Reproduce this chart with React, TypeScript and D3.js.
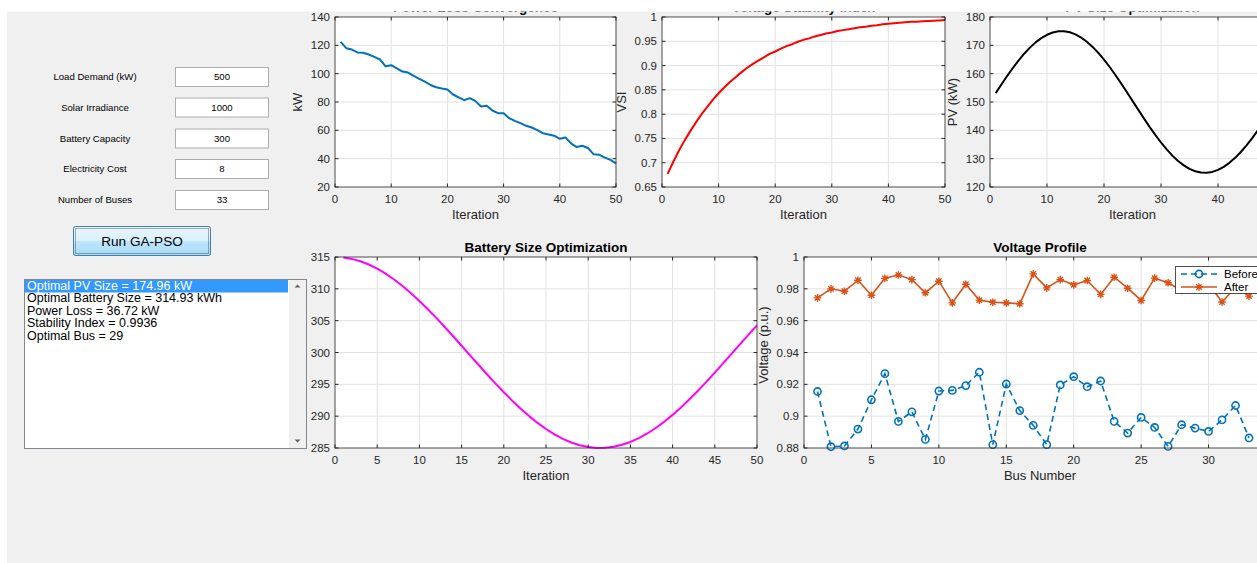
import React from 'react';
import * as d3 from 'd3';

// iteration / bus index
const iterations = d3.range(1, 51);
const busNumbers = d3.range(1, 34);

// values
const powerLoss = [
  122.4, 118, 117, 115, 114.8, 113.5, 111.8, 110, 105.2, 106,
  103.8, 101.5, 100.8, 98.4, 96.3, 94.4, 92, 90.4, 89.5, 88.8,
  85.3, 83.2, 81.3, 82.7, 80.6, 76.8, 77.3, 74, 72.1, 72.1,
  68.6, 66.7, 65.1, 63.2, 62, 60.2, 58, 57.1, 56.2, 54,
  55, 50.8, 48.2, 49.1, 47.5, 43.2, 42.8, 40.7, 39.2, 36.72,
];
const stabilityIndex = [
  0.677, 0.702, 0.725, 0.746, 0.765, 0.783, 0.800, 0.815, 0.830, 0.843,
  0.855, 0.866, 0.876, 0.886, 0.895, 0.903, 0.910, 0.917, 0.924, 0.929,
  0.935, 0.940, 0.944, 0.949, 0.953, 0.956, 0.960, 0.963, 0.966, 0.968,
  0.971, 0.973, 0.975, 0.977, 0.979, 0.980, 0.982, 0.983, 0.985, 0.986,
  0.987, 0.988, 0.989, 0.990, 0.990, 0.991, 0.992, 0.9925, 0.993, 0.9936,
];
const pvSize = [
  153.12, 156.19, 159.16, 161.99, 164.63, 167.04, 169.19, 171.04, 172.56, 173.72,
  174.52, 174.94, 174.96, 174.60, 173.85, 172.73, 171.26, 169.45, 167.34, 164.96,
  162.35, 159.54, 156.59, 153.53, 150.41, 147.30, 144.22, 141.23, 138.38, 135.71,
  133.27, 131.08, 129.20, 127.63, 126.41, 125.56, 125.10, 125.02, 125.32, 126.03,
  127.09, 128.53, 130.29, 132.36, 134.70, 137.28, 140.05, 143.01, 146.06, 149.17,
];
const batterySize = [
  314.93, 314.70, 314.33, 313.82, 313.16, 312.38, 311.47, 310.45, 309.32, 308.10,
  306.80, 305.44, 304.01, 302.55, 301.06, 299.56, 298.07, 296.59, 295.15, 293.76,
  292.43, 291.17, 290.01, 288.94, 287.98, 287.15, 286.44, 285.87, 285.44, 285.15,
  285.01, 285.03, 285.19, 285.50, 285.95, 286.55, 287.28, 288.14, 289.11, 290.20,
  291.38, 292.65, 293.99, 295.39, 296.84, 298.32, 299.81, 301.31, 302.80, 304.25,
];
const voltageBefore = [
  0.9155, 0.8808, 0.8813, 0.8919, 0.9103, 0.9267, 0.8967, 0.9027, 0.8854, 0.9158,
  0.9162, 0.9192, 0.9276, 0.8821, 0.9202, 0.9035, 0.8942, 0.8821, 0.9196, 0.9248,
  0.9185, 0.9221, 0.8967, 0.8894, 0.8992, 0.8929, 0.881, 0.8946, 0.8925, 0.8904,
  0.8977, 0.9067, 0.8863,
];
const voltageAfter = [
  0.9743, 0.98, 0.9785, 0.9854, 0.976, 0.9866, 0.9887, 0.9858, 0.9775, 0.9848,
  0.9712, 0.9829, 0.9729, 0.9716, 0.9712, 0.9706, 0.9894, 0.9806, 0.9858, 0.9825,
  0.9852, 0.9765, 0.9873, 0.9804, 0.9727, 0.9867, 0.9838, 0.979, 0.981, 0.983,
  0.9717, 0.981, 0.9754,
];

const inputLabels = ['Load Demand (kW)', 'Solar Irradiance', 'Battery Capacity', 'Electricity Cost', 'Number of Buses'];
const inputValues = ['500', '1000', '300', '8', '33'];
const resultLines = [
  'Optimal PV Size = 174.96 kW',
  'Optimal Battery Size = 314.93 kWh',
  'Power Loss = 36.72 kW',
  'Stability Index = 0.9936',
  'Optimal Bus = 29',
];

const iterTicks10 = [0, 10, 20, 30, 40, 50];
const iterTicks5 = [0, 5, 10, 15, 20, 25, 30, 35, 40, 45, 50];
const busTicks = [0, 5, 10, 15, 20, 25, 30, 35];
const lossTicks = [20, 40, 60, 80, 100, 120, 140];
const vsiTicks = [0.65, 0.7, 0.75, 0.8, 0.85, 0.9, 0.95, 1];
const pvTicks = [120, 130, 140, 150, 160, 170, 180];
const batTicks = [285, 290, 295, 300, 305, 310, 315];
const voltTicks = [0.88, 0.9, 0.92, 0.94, 0.96, 0.98, 1];

const W = 1257;
const H = 563;
const FONT = '"Liberation Sans", Arial, Helvetica, sans-serif';
const AXIS = '#262626';
const BLUE = '#0072BD';
const ORANGE = '#D95319';

const fmt = (v: number) => String(+v.toFixed(2));

function Axes(props: any) {
  const { left, top, right, bottom, xDomain, yDomain, xTicks, yTicks, title, titleY, xLabel, yLabel, yLabelX, yLabelY, children } = props;
  const x = d3.scaleLinear().domain(xDomain).range([left, right]);
  const y = d3.scaleLinear().domain(yDomain).range([bottom, top]);
  const tl = 3.5;
  return (
    <g fontFamily={FONT}>
      <rect x={left} y={top} width={right - left} height={bottom - top} fill="#fff" />
      {xTicks.map((t: number) => (
        <line key={'gx' + t} x1={x(t)} x2={x(t)} y1={top} y2={bottom} stroke="#e2e2e2" />
      ))}
      {yTicks.map((t: number) => (
        <line key={'gy' + t} x1={left} x2={right} y1={y(t)} y2={y(t)} stroke="#e2e2e2" />
      ))}
      {children(x, y)}
      <rect x={left} y={top} width={right - left} height={bottom - top} fill="none" stroke={AXIS} strokeOpacity={0.75} />
      {xTicks.map((t: number) => (
        <g key={'tx' + t}>
          <line x1={x(t)} x2={x(t)} y1={bottom} y2={bottom - tl} stroke={AXIS} />
          <line x1={x(t)} x2={x(t)} y1={top} y2={top + tl} stroke={AXIS} />
          {/* labels past the window edge are not in the screenshot */}
          {x(t) < W - 4 && (
            <text x={x(t)} y={bottom + 15.5} textAnchor="middle" fontSize={11.5} fill={AXIS}>{fmt(t)}</text>
          )}
        </g>
      ))}
      {yTicks.map((t: number) => (
        <g key={'ty' + t}>
          <line x1={left} x2={left + tl} y1={y(t)} y2={y(t)} stroke={AXIS} />
          <line x1={right} x2={right - tl} y1={y(t)} y2={y(t)} stroke={AXIS} />
          <text x={left - 5} y={y(t)} dy="0.35em" textAnchor="end" fontSize={11.5} fill={AXIS}>{fmt(t)}</text>
        </g>
      ))}
      {title && (
        <text x={(left + right) / 2} y={titleY ?? top - 5} textAnchor="middle" fontSize={13.5} fontWeight="bold" fill="#000">{title}</text>
      )}
      {xLabel && (
        <text x={(left + right) / 2} y={bottom + 32} textAnchor="middle" fontSize={13} fill={AXIS}>{xLabel}</text>
      )}
      {yLabel && (
        <text transform={`translate(${yLabelX},${yLabelY ?? (top + bottom) / 2}) rotate(-90)`} dy="0.35em" textAnchor="middle" fontSize={13} fill={AXIS}>{yLabel}</text>
      )}
    </g>
  );
}

function star(cx: number, cy: number) {
  const s = 3.8, a = 2.7;
  return `M${cx - s},${cy}L${cx + s},${cy}M${cx},${cy - s}L${cx},${cy + s}M${cx - a},${cy - a}L${cx + a},${cy + a}M${cx - a},${cy + a}L${cx + a},${cy - a}`;
}

function IterLine({ x, y, values, color }: any) {
  const line = d3.line<number>().x((_, i) => x(iterations[i])).y((d) => y(d));
  return <path d={line(values) || ''} fill="none" stroke={color} strokeWidth={2} strokeLinejoin="round" />;
}

export default function App() {
  const rowY = [77, 107.5, 138.5, 169, 200];
  return (
    <div style={{ position: 'absolute', left: 0, top: 0 }}>
      <svg width={W} height={H} style={{ display: 'block' }}>
        <defs>
          <linearGradient id="btn" x1="0" y1="0" x2="0" y2="1">
            <stop offset="0" stopColor="#eaf6fd" />
            <stop offset="0.5" stopColor="#d9f0fc" />
            <stop offset="0.52" stopColor="#bee6fd" />
            <stop offset="1" stopColor="#a7d9f5" />
          </linearGradient>
        </defs>
        <rect width={W} height={H} fill="#fff" />
        <rect x={7} y={11} width={W - 7} height={H - 11} fill="#f0f0f0" />

        {/* input controls */}
        <g fontFamily={FONT}>
          {inputLabels.map((l, i) => (
            <g key={l}>
              <text x={95} y={rowY[i]} dy="0.35em" textAnchor="middle" fontSize={9.6} fill="#000">{l}</text>
              <rect x={175.5} y={rowY[i] - 9.5} width={93} height={19} fill="#fff" stroke="#adadad" />
              <text x={222} y={rowY[i]} dy="0.35em" textAnchor="middle" fontSize={9.6} fill="#000">{inputValues[i]}</text>
            </g>
          ))}
          <rect x={73.5} y={226.5} width={137} height={29} rx={2} fill="url(#btn)" stroke="#3c7fb1" />
          <rect x={75.5} y={228.5} width={133} height={25} fill="none" stroke="#333" strokeDasharray="1,1" strokeWidth={0.8} />
          <text x={142} y={241} dy="0.35em" textAnchor="middle" fontSize={13.6} fill="#000">Run GA-PSO</text>

          <rect x={24.5} y={279.5} width={282} height={169} fill="#fff" stroke="#828790" />
          <rect x={289} y={280} width={17} height={168} fill="#f0f0f0" />
          <path d="M294.5,287.5L297.5,284.5L300.5,287.5Z" fill="#606060" />
          <path d="M294.5,439.5L297.5,442.5L300.5,439.5Z" fill="#606060" />
          <rect x={25} y={280} width={263} height={12.5} fill="#3399ff" />
          {resultLines.map((t, i) => (
            <text key={t} x={27} y={290 + i * 12.4} fontSize={12.5} fill={i === 0 ? '#fff' : '#000'}>{t}</text>
          ))}
        </g>

        {/* power loss */}
        <Axes left={335} top={17} right={616} bottom={187} xDomain={[0, 50]} yDomain={[20, 140]} titleY={12}
          xTicks={iterTicks10} yTicks={lossTicks} title="Power Loss Convergence" xLabel="Iteration" yLabel="kW" yLabelX={297}>
          {(x: any, y: any) => <IterLine x={x} y={y} values={powerLoss} color={BLUE} />}
        </Axes>

        {/* stability index */}
        <Axes left={662} top={17} right={945} bottom={187} xDomain={[0, 50]} yDomain={[0.65, 1]} titleY={12}
          xTicks={iterTicks10} yTicks={vsiTicks} title="Voltage Stability Index" xLabel="Iteration" yLabel="VSI" yLabelX={621}>
          {(x: any, y: any) => <IterLine x={x} y={y} values={stabilityIndex} color="#ff0000" />}
        </Axes>

        {/* PV size */}
        <Axes left={990} top={17} right={1275} bottom={187} xDomain={[0, 50]} yDomain={[120, 180]} titleY={12}
          xTicks={iterTicks10} yTicks={pvTicks} title="PV Size Optimization" xLabel="Iteration" yLabel="PV (kW)" yLabelX={952}>
          {(x: any, y: any) => <IterLine x={x} y={y} values={pvSize} color="#000" />}
        </Axes>

        {/* battery */}
        <Axes left={335} top={257} right={757} bottom={448} xDomain={[0, 50]} yDomain={[285, 315]}
          xTicks={iterTicks5} yTicks={batTicks} title="Battery Size Optimization" xLabel="Iteration">
          {(x: any, y: any) => <IterLine x={x} y={y} values={batterySize} color="#ff00ff" />}
        </Axes>

        {/* voltage profile */}
        <Axes left={804} top={257} right={1276} bottom={448} xDomain={[0, 35]} yDomain={[0.88, 1]}
          xTicks={busTicks} yTicks={voltTicks} title="Voltage Profile" xLabel="Bus Number" yLabel="Voltage (p.u.)" yLabelX={763} yLabelY={345}>
          {(x: any, y: any) => {
            const line = d3.line<number>().x((_, i) => x(busNumbers[i])).y((d) => y(d));
            return (
              <g>
                <path d={line(voltageBefore) || ''} fill="none" stroke={BLUE} strokeWidth={1.6} strokeDasharray="6,4" />
                {voltageBefore.map((v, i) => (
                  <circle key={'b' + i} cx={x(busNumbers[i])} cy={y(v)} r={3.6} fill="none" stroke={BLUE} strokeWidth={1.6} />
                ))}
                <path d={line(voltageAfter) || ''} fill="none" stroke={ORANGE} strokeWidth={1.6} />
                {voltageAfter.map((v, i) => (
                  <path key={'a' + i} d={star(x(busNumbers[i]), y(v))} stroke={ORANGE} strokeWidth={1.4} fill="none" />
                ))}
                {/* legend */}
                <g fontFamily={FONT}>
                  <rect x={1175.5} y={266.5} width={110} height={27} fill="#fff" stroke={AXIS} strokeOpacity={0.8} />
                  <line x1={1181} x2={1217} y1={274} y2={274} stroke={BLUE} strokeWidth={1.6} strokeDasharray="6,4" />
                  <circle cx={1199} cy={274} r={3.6} fill="none" stroke={BLUE} strokeWidth={1.6} />
                  <text x={1224} y={274} dy="0.35em" fontSize={11.5} fill="#000">Before</text>
                  <line x1={1181} x2={1217} y1={287} y2={287} stroke={ORANGE} strokeWidth={1.6} />
                  <path d={star(1199, 287)} stroke={ORANGE} strokeWidth={1.4} fill="none" />
                  <text x={1224} y={287} dy="0.35em" fontSize={11.5} fill="#000">After</text>
                </g>
              </g>
            );
          }}
        </Axes>

        {/* top of the window cut off */}
        <rect x={0} y={0} width={W} height={11.5} fill="#fff" />
      </svg>
    </div>
  );
}
